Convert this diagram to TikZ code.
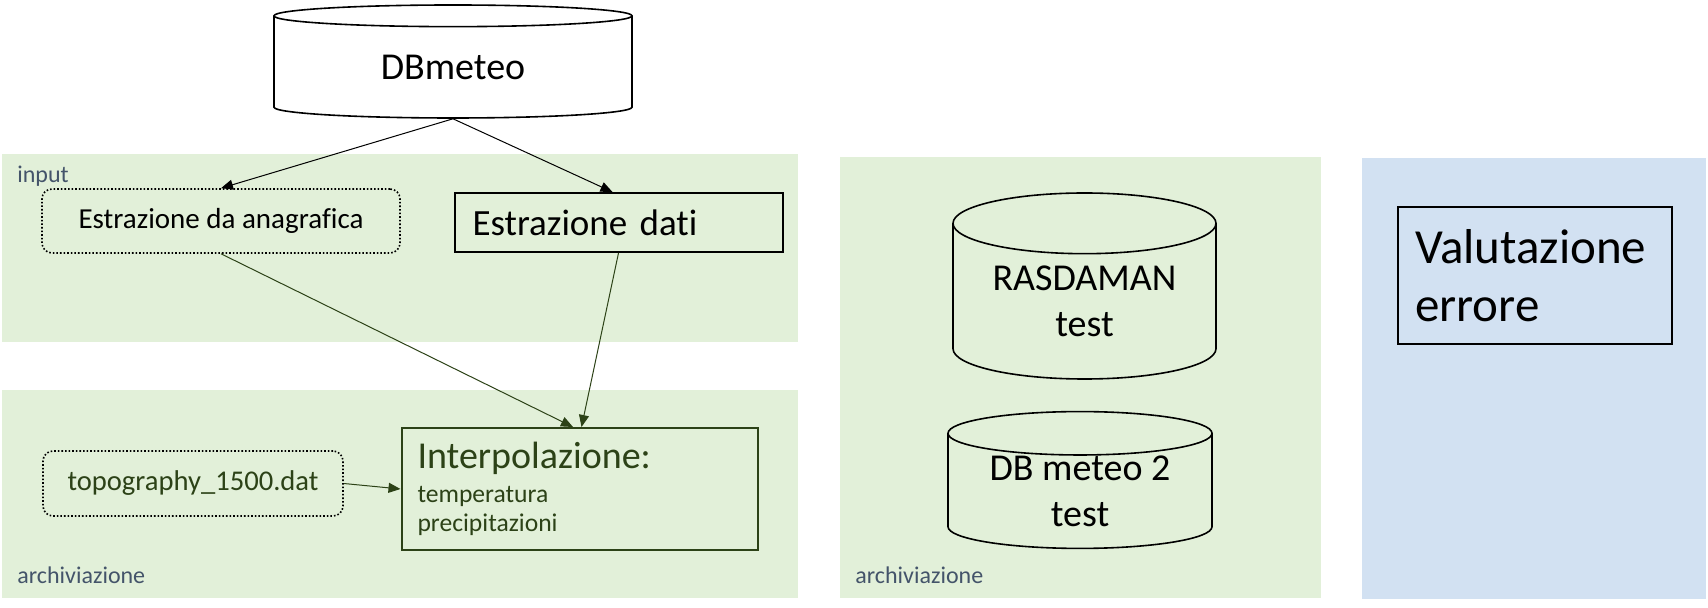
\documentclass[tikz,border=0pt]{standalone}
\usepackage{fontspec}
\setmainfont{Carlito}[Ligatures=NoCommon]
\usetikzlibrary{shapes.geometric,arrows.meta}
\definecolor{panelgreen}{HTML}{E2F0D9}
\definecolor{panelblue}{HTML}{D2E1F2}
\definecolor{labelgrey}{HTML}{44546A}
\definecolor{darkgreen}{HTML}{2C4217}

\begin{document}
\begin{tikzpicture}[x=0.5pt,y=-0.5pt,
  lbl/.style={anchor=base west,inner sep=0pt,text=labelgrey,font=\fontsize{12}{14}\selectfont},
  dbcyl/.style={cylinder,shape border rotate=90,draw,line width=0.8pt,anchor=shape center,
    align=center,inner sep=0pt,font=\fontsize{19}{23}\selectfont},
  dotbox/.style={draw,rounded corners=5pt,line width=0.8pt,dash pattern=on 0.8pt off 1pt,inner sep=0pt},
  plainbox/.style={draw,line width=1pt,inner ysep=0pt,align=left},
  arr/.style={-{Triangle[length=6pt,width=5pt]},line width=0.5pt}]
  \useasboundingbox (0,0) rectangle (1708,608);
  \fill[panelgreen] (2,154) rectangle (798,342);
  \fill[panelgreen] (2,390) rectangle (798,598);
  \fill[panelgreen] (840,157) rectangle (1321,598);
  \fill[panelblue] (1362,158) rectangle (1706,599);
  \node[lbl] (lin) at (17,183) {input};
  \node[lbl] (larc) at (17,584) {archiviazione};
  \node[lbl] (larc2) at (855,584) {archiviazione};

  \node[dbcyl,fill=white,minimum width=179pt,minimum height=56.5pt,aspect=0.15] (db) at (453,61.5) {DBmeteo};
  \node[dotbox,minimum width=179pt,minimum height=32pt,
    font=\fontsize{14.5}{17}\selectfont] (ana) at (221,221) {Estrazione da anagrafica};
  \node[plainbox,minimum height=29.5pt,text width=146pt,inner xsep=9pt,
    font=\fontsize{18.5}{22}\selectfont] (dat) at (618.5,222.5) {Estrazione dati};
  \node[plainbox,draw=darkgreen,text=darkgreen,minimum height=61pt,text width=162pt,inner xsep=8pt,
    font=\fontsize{12.8}{14.5}\selectfont] (int) at (579.5,489)
    {{\fontsize{19}{19}\selectfont Interpolazione:}\\[2.5pt]temperatura\\precipitazioni};
  \node[dotbox,text=darkgreen,minimum width=150pt,minimum height=32.5pt,
    font=\fontsize{14.3}{17}\selectfont] (topo) at (193,483.5) {topography\_1500.dat};
  \node[dbcyl,minimum width=131.5pt,minimum height=93pt,aspect=0.33] (ras) at (1084.5,286) {RASDAMAN\\test};
  \node[dbcyl,minimum width=132pt,minimum height=63pt,aspect=0.24] (db2) at (1080,480) {DB meteo 2\\test};
  \node[plainbox,minimum height=68.5pt,text width=120pt,inner xsep=8.5pt,
    font=\fontsize{24.5}{29}\selectfont] (val) at (1535,275.5) {Valutazione\\errore};

  \draw[arr] (db.south) -- (ana.north);
  \draw[arr] (db.south) -- ([xshift=-3pt]dat.north);
  \draw[arr,draw=darkgreen] (ana.south) -- ([xshift=-3.25pt]int.north);
  \draw[arr,draw=darkgreen] (dat.south) -- ([xshift=1pt]int.north);
  \draw[arr,draw=darkgreen] (topo.east) -- (int.west);
\end{tikzpicture}
\end{document}
